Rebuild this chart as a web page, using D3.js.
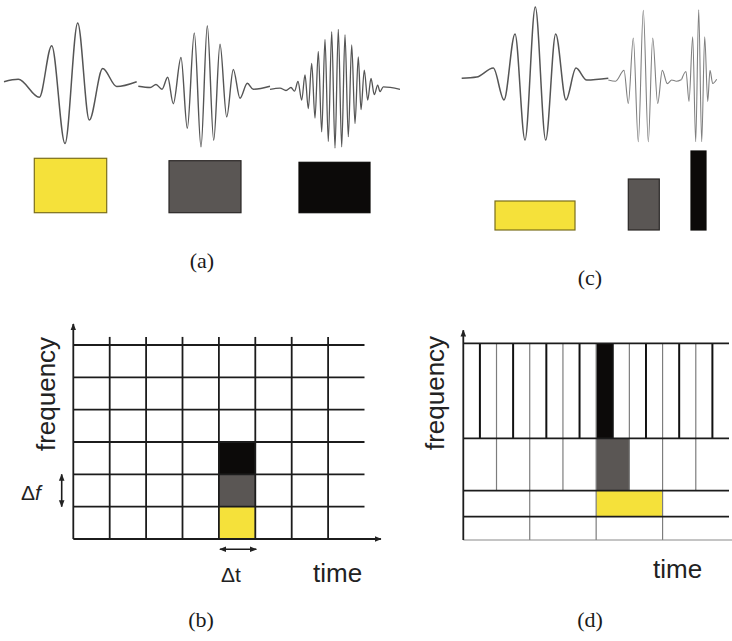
<!DOCTYPE html>
<meta charset="utf-8">
<script src="https://d3js.org/d3.v7.min.js"></script>
<style>
  body { margin: 0; background: #fff; }
  svg { display: block; }
  .lbl { font-family: "Liberation Sans", Arial, sans-serif; fill: #222; }
  .panel { font-family: "Liberation Serif", "Times New Roman", serif; fill: #1a1a1a; }
</style>
<body>
<div id="chart"></div>
<script>

// fill colours for the three analysing frequencies (low -> high)
var shadeColour = {yellow: '#f5e13a', gray: '#5a5654', black: '#0c0a09'};
var shadeStroke = {yellow: '#7a6e1c', gray: '#2a2726', black: '#0c0a09'};

// ---- (a) fixed-window wavelets: time (arb. units) and normalised amplitude, read at the extrema
var waveA1_t = [0, 14.3, 35.3, 47.7, 61, 73.7, 85.3, 98.7, 112.7, 132.7];
var waveA1_a = [0, 0.04, -0.26, 0.6, -1.03, 0.98, -0.64, 0.22, -0.08, 0];

var waveA2_t = [134.3, 146.3, 152, 158, 163.7, 169.3, 177, 183.3, 190.3, 197, 203.3, 209.7, 216, 222.7, 229.3, 236, 243.3, 249.3, 266];
var waveA2_a = [0, -0.02, 0.03, -0.05, 0.15, -0.29, 0.48, -0.7, 0.89, -1.01, 1.01, -0.9, 0.7, -0.51, 0.28, -0.2, 0.05, -0.05, 0];

var waveA3_t = [266, 276, 282, 287, 290.5, 294, 297.7, 301, 304.3, 307.7, 311, 314.3, 317.7, 321, 324.3, 327.7, 331, 334.3,
                337.7, 341, 344.3, 347.7, 351, 354.3, 357, 360.3, 363.7, 367, 370.3, 373.7, 376, 379.3, 396];
var waveA3_a = [0, 0.02, -0.02, 0.03, -0.03, 0.13, -0.18, 0.24, -0.32, 0.43, -0.48, 0.63, -0.71, 0.83, -0.87, 0.96, -0.98, 1.0,
                -0.96, 0.91, -0.79, 0.74, -0.57, 0.54, -0.34, 0.32, -0.18, 0.18, -0.09, 0.07, -0.04, 0.04, 0];

// ---- (c) scaled wavelets
var waveC1_t = [0, 15, 31.6, 42.3, 53.3, 63.3, 73.6, 84, 94, 104.3, 114.3, 125, 146.6];
var waveC1_a = [0, 0.02, 0.17, -0.36, 0.74, -1.03, 1.19, -1.03, 0.74, -0.36, 0.17, -0.03, 0];

var waveC2_t = [146.6, 153.9, 162.3, 166.6, 171.6, 176.6, 181.6, 186.6, 191, 196, 200.6, 205.6, 210, 214.6, 220];
var waveC2_a = [0, -0.02, 0.16, -0.39, 0.7, -1.03, 1.16, -1.03, 0.7, -0.39, 0.16, -0.06, 0, -0.02, 0.01];

var waveC3_t = [220, 224.3, 227.3, 231, 234, 237, 240, 243, 246, 248.3, 251, 255];
var waveC3_a = [0, 0.13, -0.37, 0.71, -1.04, 1.16, -1.04, 0.71, -0.37, 0.15, -0.07, 0];

// ---- (b) uniform time-frequency tiling
var gridB_nT = 8, gridB_nF = 6;
var cellsB_t     = [4, 4, 4];
var cellsB_f     = [0, 1, 2];
var cellsB_shade = ['yellow', 'gray', 'black'];

// ---- (d) dyadic tiling: frequency band edges and the cell width in each band
var bandsD_lo = [0, 1, 2, 4];
var bandsD_hi = [1, 2, 4, 8];
var bandsD_dt = [4, 4, 2, 1];
var gridD_nT = 16;
var cellsD_t0 = [8, 8, 8];
var cellsD_t1 = [12, 10, 9];
var cellsD_f0 = [1, 2, 4];
var cellsD_f1 = [2, 4, 8];
var cellsD_shade = ['yellow', 'gray', 'black'];


const svg = d3.select('#chart').append('svg')
    .attr('width', 732)
    .attr('height', 641);

// arrow heads
const defs = svg.append('defs');
defs.append('marker')
    .attr('id', 'arr')
    .attr('viewBox', '0 0 10 10')
    .attr('refX', 9).attr('refY', 5)
    .attr('markerWidth', 7).attr('markerHeight', 7)
    .attr('markerUnits', 'userSpaceOnUse')
    .attr('orient', 'auto-start-reverse')
  .append('path')
    .attr('d', 'M0,1 L10,5 L0,9 z')
    .attr('fill', '#222');

// ################## waveforms ##################
function drawWave(ts, as, xs, y0, stroke, width) {
    const y = d3.scaleLinear().domain([-1, 1]).range([y0 + 60, y0 - 60]);
    const line = d3.line()
        .x(d => xs(d[0]))
        .y(d => y(d[1]))
        .curve(d3.curveMonotoneX);
    svg.append('path')
        .datum(d3.zip(ts, as))
        .attr('d', line)
        .attr('fill', 'none')
        .attr('stroke', stroke)
        .attr('stroke-width', width)
        .attr('stroke-linejoin', 'round');
}

const xA = d3.scaleLinear().domain([0, 400]).range([4, 404]);
drawWave(waveA1_t, waveA1_a, xA, 81.7, '#555', 1.5);
drawWave(waveA2_t, waveA2_a, xA, 86.3, '#555', 1.4);
drawWave(waveA3_t, waveA3_a, xA, 89.3, '#555', 1.3);

const xC = d3.scaleLinear().domain([0, 255]).range([461.7, 716.7]);
drawWave(waveC1_t, waveC1_a, xC, 78.3, '#555', 1.5);
drawWave(waveC2_t, waveC2_a, xC, 80, '#808080', 1.1);
drawWave(waveC3_t, waveC3_a, xC, 79.3, '#808080', 1.1);

// Heisenberg boxes under each wavelet
var boxes = [
    {shade: 'yellow', x: 34.3, y: 158.3, w: 72.4, h: 54.4},
    {shade: 'gray',   x: 169,  y: 160.7, w: 72,   h: 52},
    {shade: 'black',  x: 299,  y: 162.3, w: 71,   h: 50.4},
    {shade: 'yellow', x: 495,  y: 201,   w: 80,   h: 29},
    {shade: 'gray',   x: 628.3, y: 179,  w: 31,   h: 51},
    {shade: 'black',  x: 691,  y: 151,   w: 15,   h: 79}
];
svg.append('g').selectAll('rect')
    .data(boxes)
    .join('rect')
    .attr('x', d => d.x).attr('y', d => d.y)
    .attr('width', d => d.w).attr('height', d => d.h)
    .attr('fill', d => shadeColour[d.shade])
    .attr('stroke', d => shadeStroke[d.shade])
    .attr('stroke-width', 1.2);

// ################## (b) STFT grid ##################
const xB = d3.scaleLinear().domain([0, gridB_nT]).range([73.3, 364.5]);
const yB = d3.scaleLinear().domain([0, gridB_nF]).range([539, 345]);
const gB = svg.append('g');

gB.selectAll('rect')
    .data(d3.range(cellsB_t.length))
    .join('rect')
    .attr('x', i => xB(cellsB_t[i]))
    .attr('y', i => yB(cellsB_f[i] + 1))
    .attr('width', i => xB(cellsB_t[i] + 1) - xB(cellsB_t[i]))
    .attr('height', i => yB(cellsB_f[i]) - yB(cellsB_f[i] + 1))
    .attr('fill', i => shadeColour[cellsB_shade[i]]);

gB.selectAll('line.v')
    .data(d3.range(1, gridB_nT))
    .join('line')
    .attr('class', 'v')
    .attr('x1', d => xB(d)).attr('x2', d => xB(d))
    .attr('y1', yB(0)).attr('y2', yB(gridB_nF + 0.25))
    .attr('stroke', '#1c1c1c').attr('stroke-width', 1.8);

gB.selectAll('line.h')
    .data(d3.range(1, gridB_nF + 1))
    .join('line')
    .attr('class', 'h')
    .attr('x1', xB(0)).attr('x2', xB(gridB_nT))
    .attr('y1', d => yB(d)).attr('y2', d => yB(d))
    .attr('stroke', '#1c1c1c').attr('stroke-width', 1.8);

// axes with arrows
gB.append('line')
    .attr('x1', xB(0)).attr('x2', xB(0))
    .attr('y1', yB(0)).attr('y2', yB(6.65))
    .attr('stroke', '#1c1c1c').attr('stroke-width', 1.8)
    .attr('marker-end', 'url(#arr)');
gB.append('line')
    .attr('x1', xB(0)).attr('x2', xB(8.45))
    .attr('y1', yB(0)).attr('y2', yB(0))
    .attr('stroke', '#1c1c1c').attr('stroke-width', 1.8)
    .attr('marker-end', 'url(#arr)');

// delta t / delta f
gB.append('line')
    .attr('x1', xB(4) + 1).attr('x2', xB(5) + 1)
    .attr('y1', 549.3).attr('y2', 549.3)
    .attr('stroke', '#1c1c1c').attr('stroke-width', 1.6)
    .attr('marker-start', 'url(#arr)').attr('marker-end', 'url(#arr)');
gB.append('line')
    .attr('x1', 61.7).attr('x2', 61.7)
    .attr('y1', yB(1)).attr('y2', yB(2))
    .attr('stroke', '#1c1c1c').attr('stroke-width', 1.6)
    .attr('marker-start', 'url(#arr)').attr('marker-end', 'url(#arr)');

// ################## (d) wavelet grid ##################
const xD = d3.scaleLinear().domain([0, gridD_nT]).range([463.3, 729]);
const yD = d3.scaleLinear().domain([0, 1, 2, 4, 8]).range([540, 516.7, 490.7, 438.3, 343.3]);
const gD = svg.append('g');

gD.selectAll('rect')
    .data(d3.range(cellsD_t0.length))
    .join('rect')
    .attr('x', i => xD(cellsD_t0[i]))
    .attr('y', i => yD(cellsD_f1[i]))
    .attr('width', i => xD(cellsD_t1[i]) - xD(cellsD_t0[i]))
    .attr('height', i => yD(cellsD_f0[i]) - yD(cellsD_f1[i]))
    .attr('fill', i => shadeColour[cellsD_shade[i]]);

// each vertical edge runs from the top down to the lowest band it bounds
var vLines = d3.range(1, gridD_nT).map(function(k) {
    var lo = 8;
    for (var b = 0; b < bandsD_lo.length; b++) {
        if (k % bandsD_dt[b] === 0) { lo = bandsD_lo[b]; break; }
    }
    return {k: k, lo: lo, top: lo === 4};
});

gD.selectAll('line.v')
    .data(vLines)
    .join('line')
    .attr('class', 'v')
    .attr('x1', d => xD(d.k)).attr('x2', d => xD(d.k))
    .attr('y1', d => yD(d.lo)).attr('y2', yD(8))
    .attr('stroke', d => d.top ? '#111' : '#7d7d7d')
    .attr('stroke-width', d => d.top ? 2 : 1.2);

gD.selectAll('line.h')
    .data(bandsD_hi)
    .join('line')
    .attr('class', 'h')
    .attr('x1', xD(0)).attr('x2', xD(gridD_nT))
    .attr('y1', d => yD(d)).attr('y2', d => yD(d))
    .attr('stroke', '#1c1c1c').attr('stroke-width', 1.7);

gD.append('line')
    .attr('x1', xD(0)).attr('x2', xD(16.2))
    .attr('y1', yD(0)).attr('y2', yD(0))
    .attr('stroke', '#8a8a8a').attr('stroke-width', 1.2);
gD.append('line')
    .attr('x1', xD(0)).attr('x2', xD(0))
    .attr('y1', yD(0)).attr('y2', yD(8.55))
    .attr('stroke', '#1c1c1c').attr('stroke-width', 1.8)
    .attr('marker-end', 'url(#arr)');

// ################## labels ##################
function rotLabel(x, y, txt) {
    svg.append('text').attr('class', 'lbl')
        .attr('transform', 'translate(' + x + ',' + y + ') rotate(-90)')
        .attr('text-anchor', 'middle')
        .attr('font-size', 26)
        .text(txt);
}
rotLabel(55, 394, 'frequency');
rotLabel(444, 393, 'frequency');

svg.append('text').attr('class', 'lbl').attr('x', 313).attr('y', 582).attr('font-size', 26).text('time');
svg.append('text').attr('class', 'lbl').attr('x', 653).attr('y', 578).attr('font-size', 26).text('time');

var df = svg.append('text').attr('class', 'lbl').attr('x', 21).attr('y', 500).attr('font-size', 21);
df.append('tspan').text('Δ');
df.append('tspan').attr('font-style', 'italic').text('f');
svg.append('text').attr('class', 'lbl').attr('x', 221).attr('y', 582).attr('font-size', 21).text('Δt');

var panels = [
    {t: '(a)', x: 202, y: 268},
    {t: '(c)', x: 590, y: 285},
    {t: '(b)', x: 201, y: 627},
    {t: '(d)', x: 590, y: 627}
];
svg.selectAll('text.panel')
    .data(panels)
    .join('text')
    .attr('class', 'panel')
    .attr('x', d => d.x).attr('y', d => d.y)
    .attr('text-anchor', 'middle')
    .attr('font-size', 22)
    .text(d => d.t);

</script>
</body>
